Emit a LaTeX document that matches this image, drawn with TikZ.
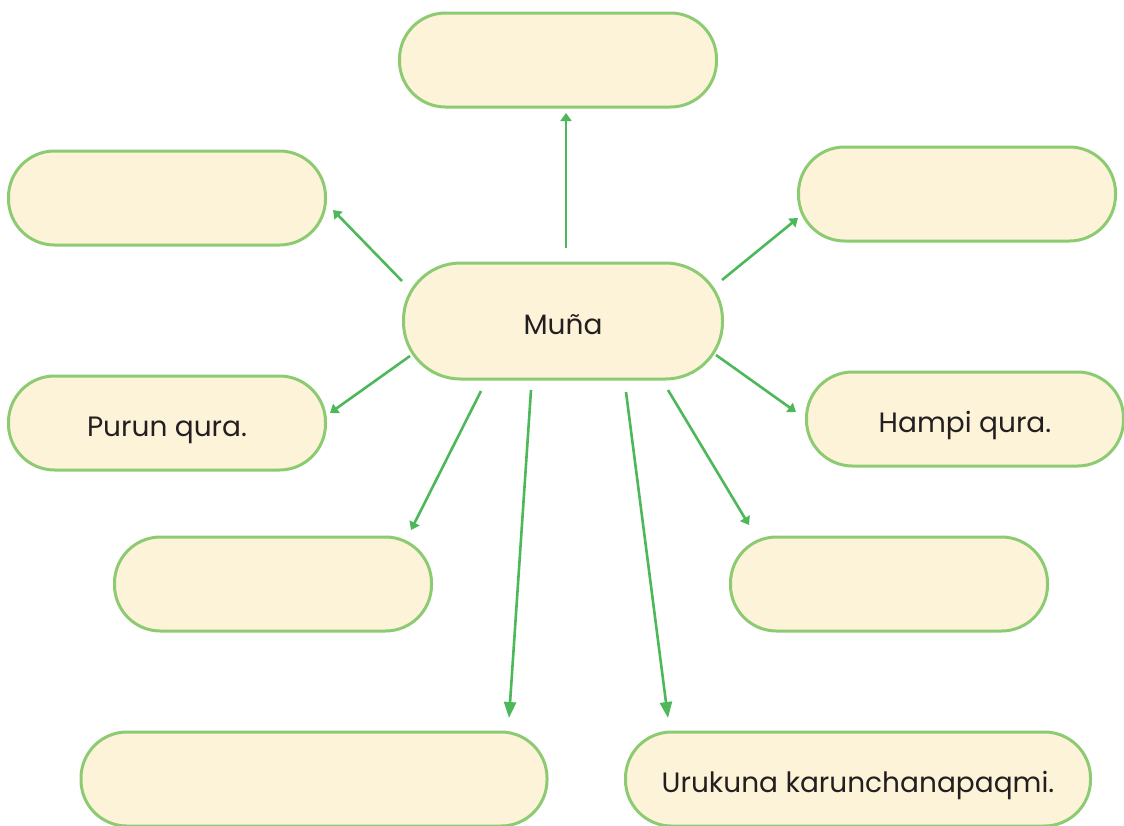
\documentclass[tikz,border=0pt]{standalone}
\usepackage{fontspec}
\setmainfont{Poppins}
\usetikzlibrary{arrows.meta}
\definecolor{boxline}{HTML}{8DCB72}
\definecolor{boxfill}{HTML}{FDF3D8}
\definecolor{arrowc}{HTML}{4DB85A}
\definecolor{txt}{HTML}{231F20}
\begin{document}
\begin{tikzpicture}[x=1pt,y=-1pt,
  bubble/.style={draw=boxline, fill=boxfill, line width=3pt, rounded corners=46pt,
    minimum width=317pt, minimum height=94pt, inner sep=0pt, text=txt,
    text height=27pt, text depth=0pt,
    font=\fontsize{28}{34}\selectfont},
  wide/.style={bubble, minimum width=466pt},
  conn/.style={draw=arrowc, line width=2.6pt, -{Triangle[length=8pt,width=11pt]}},
  longconn/.style={draw=arrowc, line width=2.6pt, -{Triangle[length=16pt,width=12pt]}}]
\useasboundingbox (0,0) rectangle (1124,825);
\node[bubble] (top) at (558,60) {};
\node[bubble] (ul) at (167,198) {};
\node[bubble] (ur) at (957,194) {};
\node[bubble, minimum width=319pt, minimum height=116pt, rounded corners=57pt] (mu) at (563,321) {Muña};
\node[bubble] (pq) at (167,423) {Purun qura.};
\node[bubble] (hq) at (965,419) {Hampi qura.\hspace{14pt}};
\node[bubble] (ml) at (273,584) {};
\node[bubble] (mr) at (889,584) {};
\node[wide] (bl) at (314,779) {};
\node[wide, minimum width=465pt] (br) at (858,779) {Urukuna karunchanapaqmi.};
% connector endpoints
\coordinate (s1) at (566,248); \coordinate (e1) at (566,113);
\coordinate (s2) at (402,281); \coordinate (e2) at (333,210);
\coordinate (s3) at (722,280); \coordinate (e3) at (798,218);
\coordinate (s4) at (410,356); \coordinate (e4) at (330,413);
\coordinate (s5) at (716,355); \coordinate (e5) at (796,412);
\coordinate (s6) at (481,391); \coordinate (e6) at (411,530);
\coordinate (s7) at (668,390); \coordinate (e7) at (749,525);
\coordinate (s8) at (531,390); \coordinate (e8) at (509,718);
\coordinate (s9) at (626,392); \coordinate (e9) at (668,718);
\draw[conn] (s1) -- (e1);
\draw[conn] (s2) -- (e2);
\draw[conn] (s3) -- (e3);
\draw[conn] (s4) -- (e4);
\draw[conn] (s5) -- (e5);
\draw[conn] (s6) -- (e6);
\draw[conn] (s7) -- (e7);
\draw[longconn] (s8) -- (e8);
\draw[longconn] (s9) -- (e9);
\end{tikzpicture}
\end{document}
